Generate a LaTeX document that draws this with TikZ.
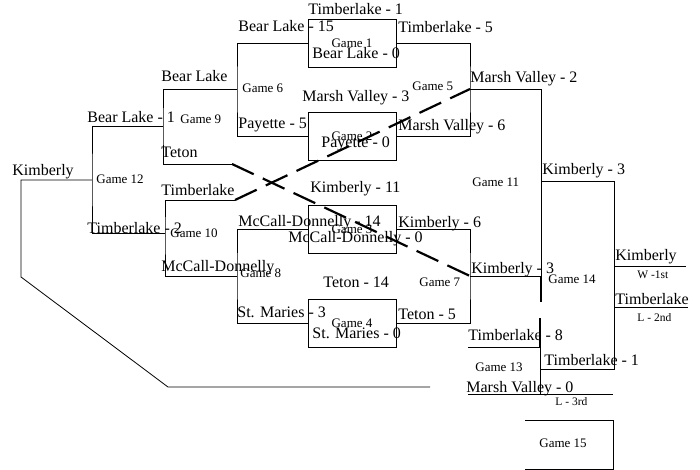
\documentclass[tikz,border=0pt]{standalone}
\usepackage{fontspec}
\setmainfont{Liberation Serif}
\usepackage{tikz}

\tikzset{
  team/.style={anchor=base west,inner sep=0pt,font=\fontsize{16}{18}\selectfont},
  gamelbl/.style={anchor=west,inner sep=0pt,font=\fontsize{13}{15}\selectfont},
  place/.style={anchor=west,inner sep=0pt,font=\fontsize{11.5}{13}\selectfont},
  gamebox/.style={draw,minimum width=88pt,minimum height=48pt,inner sep=0pt,font=\fontsize{13}{15}\selectfont},
  crossline/.style={line width=2.2pt,dash pattern=on 24pt off 10pt},
  heavyline/.style={line width=1.5pt}
}

\begin{document}
\begin{tikzpicture}[x=1pt,y=-1pt,line width=0.8pt]
\useasboundingbox (0,0) rectangle (700,470);
% first round boxes
\node[gamebox] (g1) at (352,43) {Game 1};
\node[gamebox] (g2) at (352,136) {Game 2};
\node[gamebox] (g3) at (352,229) {Game 3};
\node[gamebox] (g4) at (352,323) {Game 4};
% junctions
\coordinate (c6) at (237,89);
\coordinate (c5) at (470,89);
\coordinate (c8) at (237,276);
\coordinate (c7) at (470,276);
\coordinate (c9) at (163,126);
\coordinate (c10) at (165,233);
\coordinate (c12) at (92,180);
\coordinate (c11) at (541,181);
\coordinate (c13) at (540,369);
\coordinate (c14) at (614,266);
% bracket lines
\draw (g1.west) -| (c6) |- (g2.west);
\draw (g1.east) -| (c5) |- (g2.east);
\draw (g3.west) -| (c8) |- (g4.west);
\draw (g3.east) -| (c7) |- (g4.east);
\draw (c6) -| (c9) |- (232,164) coordinate (tet);
\draw (c8) -| (c10) |- (235,200) coordinate (tim);
\draw (c9) -| (c12) |- (c10);
\draw (c12) -- (21,180) -- (21,277) -- (168,387) -- (430,387);
\draw (c5) -| (c11) -- (541,302);
\draw (c7) -- (c7 -| c11);
\draw[heavyline] (c7 -| c11) -- (541,302);
\draw[crossline] (tet) -- (c7);
\draw[crossline] (tim) -- (c5);
\draw (c11) -| (c14) |- (c13);
\draw (c14) -- (686,266);
\draw (614,307) -- (688,307);
\draw (468,347) -- (540,347);
\draw (468,394) -- (613,394);
\draw[heavyline] (540,318) -- (540,347);
\draw (540,347) -- (540,394);
\draw (525,420) -- (613,420) -- (613,469) -- (525,469);
% team labels
\node[team] (kim0) at (12,176) {Kimberly};
\node[team] (bl1) at (87,123) {Bear Lake - 1};
\node[team] (bl9) at (161,82) {Bear Lake};
\node[team] (tet9) at (161,158) {Teton};
\node[team] (tim10) at (161,196) {Timberlake};
\node[team] (tim2) at (87,233) {Timberlake - 2};
\node[team] (mcd10) at (161,271) {McCall-Donnelly};
\node[team] (tim1a) at (308,15) {Timberlake - 1};
\node[team] (bl15) at (238,32) {Bear Lake - 15};
\node[team] (bl0) at (312,59) {Bear Lake - 0};
\node[team] (tim5) at (398,33) {Timberlake - 5};
\node[team] (mv3) at (302,102) {Marsh Valley - 3};
\node[team] (pay5) at (238,129) {Payette - 5};
\node[team] (pay0) at (321,148) {Payette - 0};
\node[team] (mv6) at (398,131) {Marsh Valley - 6};
\node[team] (kim11) at (310,193) {Kimberly - 11};
\node[team] (mcd14) at (238,226) {McCall-Donnelly - 14};
\node[team] (mcd0) at (288,242) {McCall-Donnelly - 0};
\node[team] (kim6) at (398,227) {Kimberly - 6};
\node[team] (tet14) at (323,287) {Teton - 14};
\node[team] (stm3) at (237,317) {St. Maries - 3};
\node[team] (stm0) at (312,338) {St. Maries - 0};
\node[team] (tet5) at (398,319) {Teton - 5};
\node[team] (mv2) at (470,83) {Marsh Valley - 2};
\node[team] (kim3a) at (542,175) {Kimberly - 3};
\node[team] (kim3b) at (471,273) {Kimberly - 3};
\node[team] (kimw) at (615,260) {Kimberly};
\node[team] (timl) at (615,304) {Timberlake};
\node[team] (tim8) at (468,340) {Timberlake - 8};
\node[team] (tim1b) at (544,365) {Timberlake - 1};
\node[team] (mv0) at (466,392) {Marsh Valley - 0};
% game labels
\node[gamelbl] (lg5) at (412,86) {Game 5};
\node[gamelbl] (lg6) at (242,88) {Game 6};
\node[gamelbl] (lg7) at (419,282) {Game 7};
\node[gamelbl] (lg8) at (240,273) {Game 8};
\node[gamelbl] (lg9) at (180,119) {Game 9};
\node[gamelbl] (lg10) at (170,233) {Game 10};
\node[gamelbl] (lg11) at (472,182) {Game 11};
\node[gamelbl] (lg12) at (96,179) {Game 12};
\node[gamelbl] (lg13) at (475,367) {Game 13};
\node[gamelbl] (lg14) at (548,279) {Game 14};
\node[gamelbl,anchor=center] (lg15) at (563,443) {Game 15};
% places
\node[place] (p1) at (637,275) {W -1st};
\node[place] (p2) at (637,318) {L - 2nd};
\node[place] (p3) at (555,402) {L - 3rd};
\end{tikzpicture}
\end{document}
